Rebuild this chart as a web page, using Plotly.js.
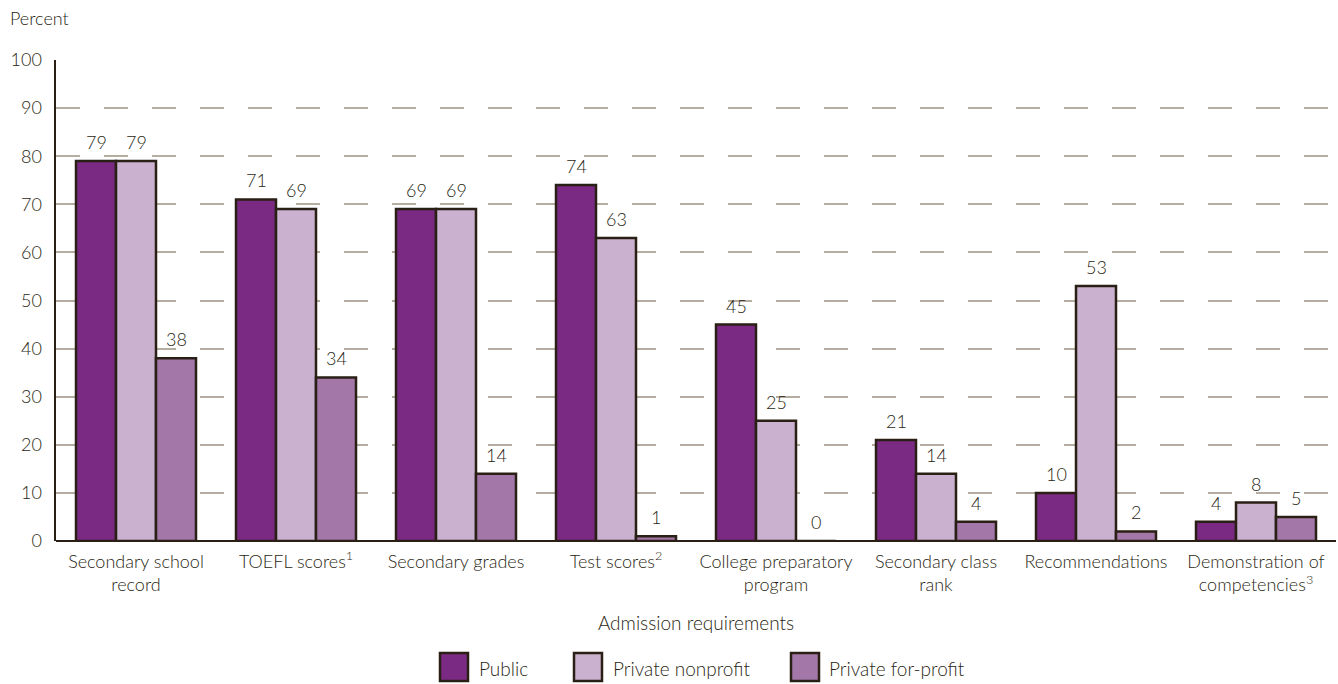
<!DOCTYPE html>
<html>
<head>
<meta charset="utf-8">
<script src="https://cdn.plot.ly/plotly-3.0.1.min.js"></script>
<style>html,body{margin:0;padding:0;background:#fff;}#chart{width:1338px;height:684px;}</style>
</head>
<body>
<div id="chart"></div>
<script>
var categories = ["Secondary school<br>record", "TOEFL scores<sup>1</sup>", "Secondary grades", "Test scores<sup>2</sup>", "College preparatory<br>program", "Secondary class<br>rank", "Recommendations", "Demonstration of<br>competencies<sup>3</sup>"];
var publicVals = [79, 71, 69, 74, 45, 21, 10, 4];
var nonprofitVals = [79, 69, 69, 63, 25, 14, 53, 8];
var forprofitVals = [38, 34, 14, 1, 0, 4, 2, 5];
var seriesNames = ["Public", "Private nonprofit", "Private for-profit"];
var yTicks = [0, 10, 20, 30, 40, 50, 60, 70, 80, 90, 100];

var dark = "#2a1f14";
var colors = ["#7b2a83", "#c9b1cf", "#a378a9"];
var FONT = "Lato, 'Open Sans', sans-serif";
var WT = 300;

var W = 1338, H = 684;
var M = {l: 56, r: 2, t: 60, b: 143};
var PW = W - M.l - M.r, PH = H - M.t - M.b;
function px(x) { return (x - M.l) / PW; }
function py(y) { return (H - M.b - y) / PH; }
function f(size) { return {family: FONT, size: size, color: dark, weight: WT}; }

var allVals = [publicVals, nonprofitVals, forprofitVals];
var data = allVals.map(function (vals, i) {
  return {
    type: "bar", x: categories, y: vals, name: seriesNames[i],
    marker: {color: colors[i], line: {color: dark, width: 2.5}},
    showlegend: false, hoverinfo: "x+y"
  };
});

var annotations = [];
allVals.forEach(function (vals, i) {
  vals.forEach(function (v, j) {
    annotations.push({
      x: categories[j], y: v, xref: "x", yref: "y", text: String(v),
      showarrow: false, xanchor: "center", yanchor: "bottom",
      xshift: (i - 1) * 40, yshift: 6,
      font: f(18)
    });
  });
});
annotations.push({
  text: "Percent", xref: "paper", yref: "paper", x: px(8), y: py(18), xanchor: "left", yanchor: "middle",
  showarrow: false, font: f(18)
});

// legend (large swatches)
var legendItems = [{sx: 440, tx: 477}, {sx: 574, tx: 611}, {sx: 791, tx: 827}];
var shapes = [];
legendItems.forEach(function (it, i) {
  shapes.push({
    type: "rect", xref: "paper", yref: "paper",
    x0: px(it.sx), x1: px(it.sx + 28), y0: py(681), y1: py(653),
    fillcolor: colors[i], line: {color: dark, width: 2.5}
  });
  annotations.push({
    text: seriesNames[i], xref: "paper", yref: "paper", x: px(it.tx), y: py(668),
    xanchor: "left", yanchor: "middle", showarrow: false,
    font: f(19)
  });
});

var layout = {
  width: W, height: H,
  margin: M,
  paper_bgcolor: "#fff", plot_bgcolor: "#fff",
  font: f(18),
  barmode: "group", bargap: 0.25, bargroupgap: 0,
  showlegend: false,
  xaxis: {
    type: "category", showline: false, ticks: "", showgrid: false,
    tickfont: f(18), ticklabelstandoff: 8,
    title: {text: "Admission requirements", standoff: 22, font: f(19)},
    automargin: false
  },
  yaxis: {
    range: [0, 100], tickvals: yTicks, ticktext: yTicks.map(String),
    showline: true, linecolor: dark, linewidth: 2.5,
    ticks: "outside", ticklen: 8, tickcolor: "rgba(0,0,0,0)",
    tickfont: f(18),
    showgrid: true, gridcolor: "#b5ad9f", gridwidth: 2, griddash: "24px,24px",
    zeroline: true, zerolinecolor: dark, zerolinewidth: 2.5,
    automargin: false, fixedrange: true
  },
  shapes: shapes,
  annotations: annotations
};
Plotly.newPlot("chart", data, layout, {displayModeBar: false, staticPlot: true});
</script>
</body>
</html>
